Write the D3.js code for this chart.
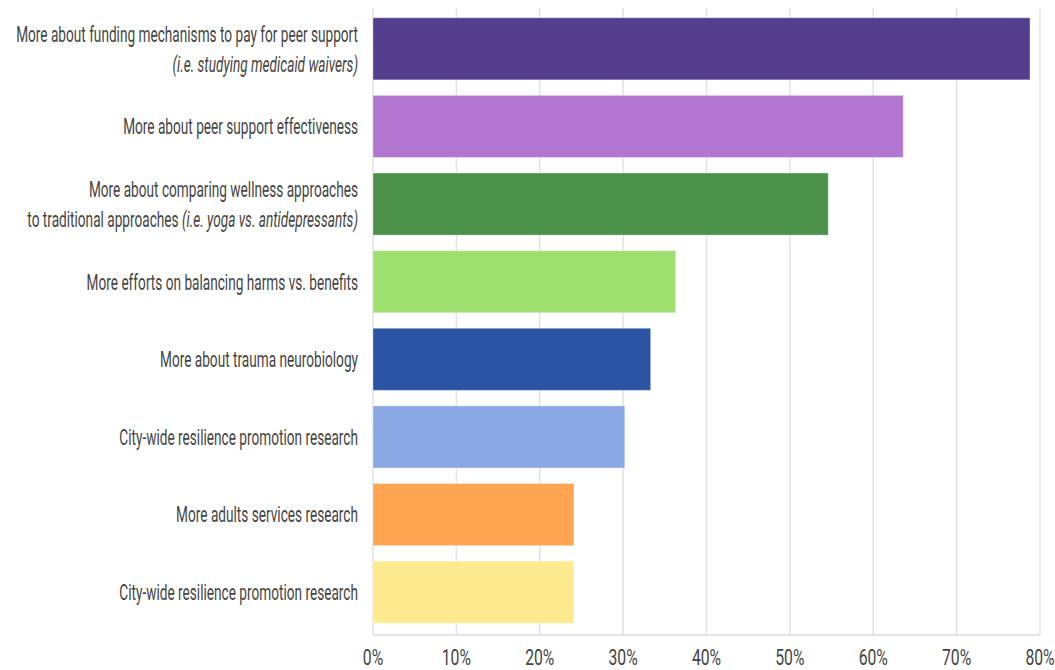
<!DOCTYPE html>
<html>
<head>
<meta charset="utf-8">
<script src="https://cdn.jsdelivr.net/npm/d3@7"></script>
<style>
  body { margin: 0; background: #fff; }
  svg text { font-family: Roboto, "Noto Sans", sans-serif; fill: #444; }
</style>
</head>
<body>
<svg id="chart" width="1055" height="670"></svg>
<script>
// label lines; anything from "(i.e." onward is drawn in italics
const labels = [
    ["More about funding mechanisms to pay for peer support", "(i.e. studying medicaid waivers)"],
    ["More about peer support effectiveness"],
    ["More about comparing wellness approaches", "to traditional approaches (i.e. yoga vs. antidepressants)"],
    ["More efforts on balancing harms vs. benefits"],
    ["More about trauma neurobiology"],
    ["City-wide resilience promotion research"],
    ["More adults services research"],
    ["City-wide resilience promotion research"]
];
const values = [78.8, 63.6, 54.6, 36.3, 33.3, 30.2, 24.1, 24.1];
const colors = ["#543e8e", "#b176d0", "#4b9149", "#9de06f", "#2b55a4", "#8aa8e3", "#ffa552", "#ffea90"];
const ticks = [0, 10, 20, 30, 40, 50, 60, 70, 80];

// the original font is a narrow one, so the text is squeezed sideways
const labelSqueeze = 0.62;
const tickSqueeze = 0.70;
const lineGap = 30;

const svg = d3.select('#chart');
const plotLeft = 373, plotRight = 1040, plotTop = 8, plotBottom = 635;

const x = d3.scaleLinear().domain([0, 80]).range([plotLeft, plotRight]);
const y = d3.scaleBand()
    .domain(d3.range(values.length))
    .range([10, 631])
    .paddingInner(0.2)
    .paddingOuter(0.1);

// grid
svg.append('g')
    .selectAll('line')
    .data(ticks)
    .join('line')
    .attr('x1', d => x(d))
    .attr('x2', d => x(d))
    .attr('y1', plotTop)
    .attr('y2', plotBottom)
    .attr('stroke', '#e2e2e2')
    .attr('stroke-width', 1.5);

svg.append('line')
    .attr('x1', plotLeft).attr('x2', plotRight)
    .attr('y1', plotBottom).attr('y2', plotBottom)
    .attr('stroke', '#dcdcdc')
    .attr('stroke-width', 1.5);

// bars
svg.append('g')
    .selectAll('rect')
    .data(values)
    .join('rect')
    .attr('x', x(0))
    .attr('y', (d, i) => y(i))
    .attr('width', d => x(d) - x(0))
    .attr('height', y.bandwidth())
    .attr('fill', (d, i) => colors[i])
    .attr('stroke', '#fff')
    .attr('stroke-opacity', 0.35)
    .attr('stroke-width', 1);

// category labels
const lab = svg.append('g');
labels.forEach((lines, i) => {
    const cy = y(i) + y.bandwidth() / 2;
    lines.forEach((line, j) => {
        const off = (j - (lines.length - 1) / 2) * lineGap;
        const t = lab.append('text')
            .attr('transform', `translate(358,${cy + off}) scale(${labelSqueeze},1)`)
            .attr('text-anchor', 'end')
            .attr('dy', '0.355em')
            .attr('font-size', 22);
        const k = line.indexOf('(i.e.');
        if (k < 0) {
            t.text(line);
        } else {
            if (k > 0) t.append('tspan').text(line.slice(0, k));
            t.append('tspan').attr('font-style', 'italic').text(line.slice(k));
        }
    });
});

// x axis tick labels
svg.append('g')
    .selectAll('text')
    .data(ticks)
    .join('text')
    .attr('transform', d => `translate(${x(d)},657) scale(${tickSqueeze},1)`)
    .attr('text-anchor', 'middle')
    .attr('dy', '0.355em')
    .attr('font-size', 22.5)
    .text(d => d + '%');
</script>
</body>
</html>
